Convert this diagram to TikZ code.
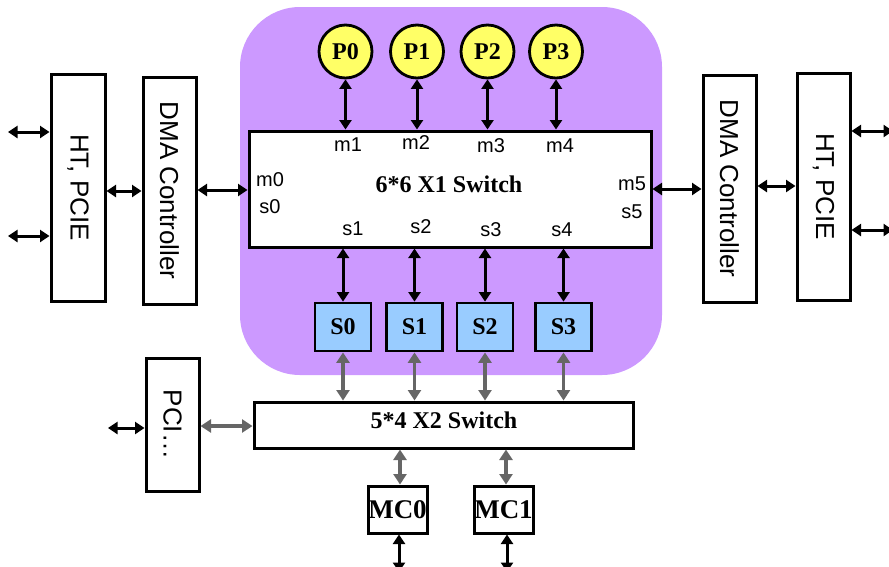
\documentclass[tikz,border=0pt]{standalone}
\usepackage{fontspec}
\setmainfont{Liberation Serif}
\newfontfamily\sansf{Liberation Sans}
\usetikzlibrary{arrows.meta}
\definecolor{chipviolet}{HTML}{CC99FF}
\definecolor{procyellow}{HTML}{FFFF66}
\definecolor{slaveblue}{HTML}{99CCFF}
\definecolor{linkgrey}{HTML}{666666}
\tikzset{
  box/.style={draw, line width=3pt, fill=white, inner sep=0pt},
  proc/.style={circle, draw, line width=2.8pt, fill=procyellow, minimum size=53pt, inner sep=0pt,
    font=\bfseries\fontsize{24}{24}\selectfont},
  slavebox/.style={draw, line width=2.8pt, fill=slaveblue, minimum width=56pt, minimum height=48pt,
    inner sep=0pt, font=\bfseries\fontsize{24}{24}\selectfont},
  mcbox/.style={box, minimum width=59pt, minimum height=47pt, font=\bfseries\fontsize{27}{27}\selectfont},
  blk/.style={line width=3pt, {Triangle[length=9.5pt,width=12pt]}-{Triangle[length=9.5pt,width=12pt]}},
  gry/.style={line width=3.4pt, draw=linkgrey, {Triangle[length=10.5pt,width=13pt]}-{Triangle[length=10.5pt,width=13pt]}},
  port/.style={inner sep=0pt, font=\sansf\fontsize{20}{20}\selectfont},
  vlabel/.style={rotate=-90, inner sep=0pt, font=\sansf\fontsize{26}{26}\selectfont},
  title/.style={inner sep=0pt, font=\bfseries\fontsize{24}{24}\selectfont}
}
\begin{document}
\begin{tikzpicture}[x=1pt, y=-1pt]
\useasboundingbox (0,0) rectangle (889,566);

% chip area
\node[fill=chipviolet, rounded corners=60pt, minimum width=422pt, minimum height=368pt, inner sep=0pt]
  (chip) at (451,191) {};

% left side blocks
\node[box, minimum width=54pt, minimum height=227pt] (htl) at (78,187.5) {};
\node[vlabel] (htlt) at (htl) {HT, PCIE};
\node[box, minimum width=53pt, minimum height=227pt] (dmal) at (169.5,190.5) {};
\node[vlabel] (dmalt) at (dmal) {DMA Controller};

% right side blocks
\node[box, minimum width=53pt, minimum height=227pt] (dmar) at (729.5,188.5) {};
\node[vlabel] (dmart) at (dmar) {DMA Controller};
\node[box, minimum width=53pt, minimum height=227pt] (htr) at (823.5,186.5) {};
\node[vlabel] (htrt) at (htr) {HT, PCIE};

% first-level switch
\node[box, minimum width=402pt, minimum height=116pt] (x1) at (450,189) {};
\node[title] (x1t) at (449,184) {6*6 X1 Switch};

% port labels
\node[port] (m0) at (270,180) {m0};
\node[port] (s0l) at (270,207) {s0};
\node[port] (m5) at (632,184) {m5};
\node[port] (s5l) at (632,212) {s5};
\node[port] (m1) at (348,145) {m1};
\node[port] (m2) at (416,143) {m2};
\node[port] (m3) at (491,146) {m3};
\node[port] (m4) at (560,146) {m4};
\node[port] (s1l) at (353,229) {s1};
\node[port] (s2l) at (421,227) {s2};
\node[port] (s3l) at (491,230) {s3};
\node[port] (s4l) at (562,230) {s4};

% processors
\node[proc] (p0) at (345.5,51.5) {P0};
\node[proc] (p1) at (417,51.5) {P1};
\node[proc] (p2) at (487.5,51.5) {P2};
\node[proc] (p3) at (556,51.5) {P3};

% slave ports
\node[slavebox] (s0) at (343,327) {S0};
\node[slavebox] (s1) at (414.5,327) {S1};
\node[slavebox] (s2) at (485,327) {S2};
\node[slavebox] (s3) at (563.5,327) {S3};

% second-level switch, PCI and memory controllers
\node[box, minimum width=379pt, minimum height=46pt] (x2) at (443.5,425) {};
\node[title] (x2t) at (444,420) {5*4 X2 Switch};
\node[box, minimum width=53pt, minimum height=133pt] (pci) at (172.5,424.5) {};
\node[vlabel] (pcit) at (pci) {PCI…};
\node[mcbox] (mc0) at (397.5,509.5) {MC0};
\node[mcbox] (mc1) at (503.5,509.5) {MC1};

% free ends of external links
\coordinate (la) at (8,132);
\coordinate (lb) at (8,236);
\coordinate (ra) at (893,131);
\coordinate (rb) at (893,230);
\coordinate (pl) at (108,428);
\coordinate (bot) at (0,572);

% links on the left
\draw[blk] (la) -- (la -| htl.west);
\draw[blk] (lb) -- (lb -| htl.west);
\draw[blk] (htl.east |- 0,191) -- (dmal.west |- 0,191);
\draw[blk] (dmal.east |- 0,190) -- (x1.west |- 0,190);

% links on the right
\draw[blk] (x1.east |- 0,189) -- (dmar.west |- 0,189);
\draw[blk] (dmar.east |- 0,186) -- (htr.west |- 0,186);
\draw[blk] (htr.east |- ra) -- (ra);
\draw[blk] (htr.east |- rb) -- (rb);

% processors to X1, X1 to slave ports, slave ports to X2
\foreach \i in {0,1,2,3} {
  \draw[blk] (p\i.south) -- (p\i.south |- x1.north);
  \draw[blk] (x1.south -| s\i) -- (s\i.north);
  \draw[gry] (s\i.south) -- (s\i.south |- x2.north);
}

% PCI and memory controllers
\draw[blk] (pl) -- (pl -| pci.west);
\draw[gry] (pci.east |- 0,426) -- (x2.west |- 0,426);
\draw[gry] (x2.south -| 400,0) -- (mc0.north -| 400,0);
\draw[gry] (x2.south -| 506,0) -- (mc1.north -| 506,0);
\draw[blk] (mc0.south -| 399,0) -- (bot -| 399,0);
\draw[blk] (mc1.south -| 507,0) -- (bot -| 507,0);
\end{tikzpicture}
\end{document}
